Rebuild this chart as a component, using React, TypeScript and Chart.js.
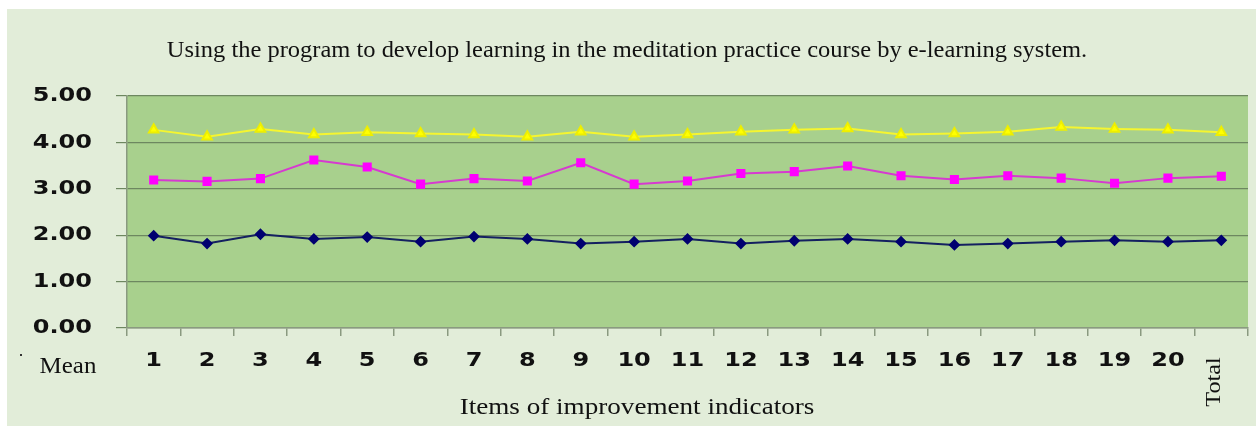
import React, { useEffect, useRef } from "react";
import { Chart, registerables } from "chart.js";

Chart.register(...registerables);

const categories = ["1","2","3","4","5","6","7","8","9","10","11","12","13","14","15","16","17","18","19","20","Total"];
const seriesHigh = [4.27,4.12,4.29,4.17,4.22,4.19,4.17,4.12,4.23,4.12,4.17,4.23,4.27,4.30,4.17,4.19,4.23,4.33,4.29,4.27,4.22];
const seriesMid = [3.19,3.16,3.22,3.62,3.47,3.10,3.22,3.17,3.56,3.10,3.17,3.33,3.37,3.49,3.28,3.20,3.28,3.23,3.12,3.23,3.27];
const seriesLow = [1.99,1.82,2.02,1.92,1.96,1.86,1.97,1.92,1.82,1.86,1.92,1.82,1.88,1.92,1.86,1.79,1.82,1.86,1.89,1.86,1.89];

const titleText = "Using the program to develop learning in the meditation practice course by e-learning system.";
const xAxisTitle = "Items of improvement indicators";
const yAxisTitle = "Mean";

const W = 1256;
const H = 426;
const SANS = "bold 20px 'DejaVu Sans', Verdana, sans-serif";
const SERIF = "22px 'Liberation Serif', 'Times New Roman', serif";
const SERIF_L = "24px 'Liberation Serif', 'Times New Roman', serif";

function stretchText(ctx: CanvasRenderingContext2D, text: string, x: number, y: number, font: string, sx: number, align: CanvasTextAlign, baseline: CanvasTextBaseline, rot = 0) {
  ctx.save();
  ctx.translate(x, y);
  if (rot) ctx.rotate(rot);
  ctx.scale(sx, 1);
  ctx.font = font;
  ctx.textAlign = align;
  ctx.textBaseline = baseline;
  ctx.fillStyle = "#111";
  ctx.fillText(text, 0, 0);
  ctx.restore();
}

const decorPlugin = {
  id: "decor",
  beforeDraw(chart: any) {
    const ctx = chart.ctx as CanvasRenderingContext2D;
    const a = chart.chartArea;
    ctx.save();
    ctx.fillStyle = "#ffffff";
    ctx.fillRect(0, 0, W, H);
    ctx.fillStyle = "#e2edd9";
    ctx.fillRect(7, 9, W - 7, H - 9);
    ctx.fillStyle = "#a8d08d";
    ctx.fillRect(a.left, a.top, a.right - a.left, a.bottom - a.top);
    ctx.restore();
  },
  afterDraw(chart: any) {
    const ctx = chart.ctx as CanvasRenderingContext2D;
    const xs = chart.scales.x;
    const ys = chart.scales.y;
    ys.ticks.forEach((t: any) => {
      const py = ys.getPixelForValue(t.value);
      stretchText(ctx, Number(t.value).toFixed(2), 92, py, SANS, 1.2, "right", "middle");
    });
    categories.forEach((c, i) => {
      const px = xs.getPixelForValue(i);
      if (c === "Total") {
        stretchText(ctx, c, px - 1, 382, SERIF, 1.1, "center", "alphabetic", -Math.PI / 2);
      } else {
        stretchText(ctx, c, px, 361, SANS, 1.2, "center", "middle");
      }
    });
    stretchText(ctx, titleText, 627, 57, SERIF_L, 1.02, "center", "alphabetic");
    stretchText(ctx, yAxisTitle, 68, 373, SERIF_L, 1.04, "center", "alphabetic");
    stretchText(ctx, xAxisTitle, 637, 414, SERIF_L, 1.13, "center", "alphabetic");
    ctx.save();
    ctx.fillStyle = "#333";
    ctx.fillRect(20, 354, 2, 2);
    ctx.restore();
  },
};

export default function App() {
  const ref = useRef<HTMLCanvasElement | null>(null);
  useEffect(() => {
    if (!ref.current) return;
    const chart = new Chart(ref.current, {
      type: "line",
      data: {
        labels: categories,
        datasets: [
          {
            label: "High",
            data: seriesHigh,
            borderColor: "#f5f530",
            backgroundColor: "#ffff00",
            pointBackgroundColor: "#ffff00",
            pointBorderColor: "#eeee00",
            pointStyle: "triangle",
            pointRadius: 5.5,
            borderWidth: 2,
            tension: 0,
          },
          {
            label: "Mid",
            data: seriesMid,
            borderColor: "#d63ad0",
            backgroundColor: "#ff00ff",
            pointBackgroundColor: "#ff00ff",
            pointBorderColor: "#ff00ff",
            pointStyle: "rect",
            pointRadius: 5,
            borderWidth: 2,
            tension: 0,
          },
          {
            label: "Low",
            data: seriesLow,
            borderColor: "#142060",
            backgroundColor: "#000080",
            pointBackgroundColor: "#000070",
            pointBorderColor: "#000070",
            pointStyle: "rectRot",
            pointRadius: 4.5,
            borderWidth: 2,
            tension: 0,
          },
        ],
      },
      options: {
        responsive: false,
        animation: false,
        events: [],
        layout: { padding: { top: 96, right: 8, bottom: 0, left: 0 } },
        plugins: { legend: { display: false }, title: { display: false }, tooltip: { enabled: false } },
        scales: {
          x: {
            offset: true,
            ticks: { display: false },
            grid: { offset: true, drawOnChartArea: false, drawTicks: true, tickLength: 8, color: "#8a9a80", lineWidth: 1.5 },
            border: { display: true, color: "#8a9a80", width: 1.5 },
            afterFit: (s: any) => { s.height = H - 328; },
          },
          y: {
            min: 0,
            max: 5,
            ticks: { display: false, stepSize: 1 },
            grid: { color: "#6d8760", lineWidth: 1.2, tickLength: 11, drawTicks: true },
            border: { display: true, color: "#8a9a80", width: 1.5 },
            afterFit: (s: any) => { s.width = 127; },
          },
        },
      },
      plugins: [decorPlugin],
    } as any);
    return () => chart.destroy();
  }, []);
  return (
    <div style={{ position: "absolute", left: 0, top: 0, width: W, height: H, overflow: "hidden", background: "#fff" }}>
      <canvas ref={ref} width={W} height={H} style={{ width: W, height: H, display: "block" }} />
    </div>
  );
}
